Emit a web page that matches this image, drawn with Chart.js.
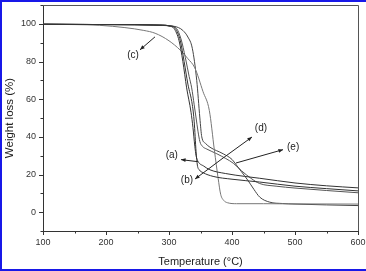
<!DOCTYPE html>
<html>
<head>
<meta charset="utf-8">
<script src="https://cdn.jsdelivr.net/npm/chart.js@4.4.1/dist/chart.umd.min.js"></script>
<style>
  html, body { margin: 0; padding: 0; background: #fff; }
  canvas { display: block; }
</style>
</head>
<body>
<canvas id="tga" width="366" height="271"></canvas>
<script>
// TGA curves, weight loss (%) vs temperature (°C)
const tempA = [100, 200, 290, 300, 308, 316, 322, 328, 335, 338, 341, 343, 346, 355, 365, 390, 420, 444, 500, 550, 600];
const lossA = [99.8, 99.6, 99.3, 98.8, 97.5, 91, 80, 66, 53, 45, 35, 30, 27, 24.5, 22.5, 20.5, 19, 18, 15.5, 14, 12.9];

const tempB = [100, 200, 290, 300, 310, 318, 324, 330, 337, 340, 343, 345, 348, 354, 370, 400, 444, 500, 550, 600];
const lossB = [99.8, 99.6, 99.3, 99, 97.5, 91, 80, 68, 57, 48, 32, 25, 22.5, 21, 19, 17.5, 16, 13.8, 12.5, 11.3];

const tempC = [100, 150, 190, 230, 260, 278, 300, 318, 330, 341, 354, 364, 372, 378, 382, 387, 393, 407, 450, 500, 600];
const lossC = [99.8, 99.6, 99.2, 98, 96.5, 95, 91, 86, 81.5, 76.6, 64, 54, 33, 18, 9.5, 6.2, 5, 4.5, 4.5, 4.4, 4.3];

const tempD = [100, 200, 300, 315, 322, 330, 337, 344, 349, 352, 358, 365, 386, 400, 407, 415, 425, 435, 444, 460, 480, 500, 600];
const lossD = [99.8, 99.6, 99, 98, 96.5, 93, 87, 70, 50, 40, 36.5, 34.5, 31, 28, 25, 21.5, 17, 12, 8, 5.3, 4.6, 4.3, 3.5];

const tempE = [100, 200, 290, 300, 312, 319, 326, 332, 336, 340, 343, 346, 349, 353, 360, 376, 390, 402, 415, 430, 444, 470, 500, 550, 600];
const lossE = [99.8, 99.6, 99.3, 99, 97.5, 92, 82, 72, 66, 57, 50, 43, 37.5, 35, 33.5, 31, 28.5, 26, 22, 18, 15.2, 13.8, 12.8, 11.5, 10.3];

const seriesNames = ["(a)", "(b)", "(c)", "(d)", "(e)"];
const xTicks = [100, 200, 300, 400, 500, 600];
const yTicks = [0, 20, 40, 60, 80, 100];

// curve labels with their arrows, in data units
const notes = [
  { text: "(c)", at: [243, 83.5], from: [277.8, 93.1], to: [254, 86.2] },
  { text: "(a)", at: [304.5, 30.3], from: [346, 26.8], to: [319, 27.9] },
  { text: "(b)", at: [328.5, 17], from: [386, 28.8], to: [341.3, 17.6] },
  { text: "(d)", at: [446, 44.7], from: [386, 28.8], to: [431.7, 39.9] },
  { text: "(e)", at: [497, 34.6], from: [406.3, 26.1], to: [481, 33.2] }
];

const pts = (xs, ys) => xs.map((x, i) => ({ x: x, y: ys[i] }));
const lineColors = ["#333", "#333", "#777", "#444", "#555"];
const allData = [pts(tempA, lossA), pts(tempB, lossB), pts(tempC, lossC), pts(tempD, lossD), pts(tempE, lossE)];
const FONT = "'Liberation Sans', Arial, sans-serif";

const decor = {
  id: "decor",
  afterDraw(chart) {
    const ctx = chart.ctx;
    const a = chart.chartArea;
    const xs = chart.scales.x, ys = chart.scales.y;
    ctx.save();
    // frame top/right
    ctx.strokeStyle = "#555";
    ctx.lineWidth = 1;
    ctx.beginPath();
    ctx.moveTo(a.left, a.top + 0.5);
    ctx.lineTo(a.right + 0.5, a.top + 0.5);
    ctx.lineTo(a.right + 0.5, a.bottom);
    ctx.stroke();
    // ticks, outward
    ctx.strokeStyle = "#333";
    ctx.beginPath();
    for (let v = 100; v <= 600; v += 50) {
      const px = Math.round(xs.getPixelForValue(v)) + 0.5;
      const len = v % 100 === 0 ? 4 : 2.5;
      ctx.moveTo(px, a.bottom);
      ctx.lineTo(px, a.bottom + len);
    }
    for (let v = -10; v <= 110; v += 10) {
      const py = Math.round(ys.getPixelForValue(v)) + 0.5;
      const len = v % 20 === 0 ? 4 : 2.5;
      ctx.moveTo(a.left, py);
      ctx.lineTo(a.left - len, py);
    }
    ctx.stroke();
    // annotations
    ctx.fillStyle = "#222";
    ctx.strokeStyle = "#222";
    ctx.font = "10px " + FONT;
    ctx.textAlign = "center";
    ctx.textBaseline = "middle";
    notes.forEach((n) => {
      ctx.fillText(n.text, xs.getPixelForValue(n.at[0]), ys.getPixelForValue(n.at[1]));
      const x0 = xs.getPixelForValue(n.from[0]), y0 = ys.getPixelForValue(n.from[1]);
      const x1 = xs.getPixelForValue(n.to[0]), y1 = ys.getPixelForValue(n.to[1]);
      ctx.beginPath();
      ctx.moveTo(x0, y0);
      ctx.lineTo(x1, y1);
      ctx.stroke();
      const ang = Math.atan2(y1 - y0, x1 - x0);
      ctx.beginPath();
      ctx.moveTo(x1, y1);
      ctx.lineTo(x1 - 5 * Math.cos(ang - 0.4), y1 - 5 * Math.sin(ang - 0.4));
      ctx.lineTo(x1 - 5 * Math.cos(ang + 0.4), y1 - 5 * Math.sin(ang + 0.4));
      ctx.closePath();
      ctx.fill();
    });
    // blue picture border
    ctx.fillStyle = "#1818e8";
    ctx.fillRect(0, 0, chart.width, 2);
    ctx.fillRect(0, 0, 2, chart.height);
    ctx.fillRect(0, chart.height - 2, chart.width, 2);
    ctx.restore();
  }
};

new Chart(document.getElementById("tga"), {
  type: "line",
  data: {
    datasets: allData.map((d, i) => ({
      label: seriesNames[i],
      data: d,
      borderColor: lineColors[i],
      borderWidth: 1,
      pointRadius: 0,
      fill: false,
      cubicInterpolationMode: "monotone"
    }))
  },
  options: {
    responsive: false,
    animation: false,
    devicePixelRatio: 1,
    layout: { padding: { left: 0, right: 8, top: 5, bottom: 0 } },
    plugins: { legend: { display: false }, tooltip: { enabled: false } },
    scales: {
      x: {
        type: "linear",
        min: 100,
        max: 600,
        afterFit: (s) => { s.height = 40; s.paddingLeft = 0; s.paddingRight = 0; },
        afterBuildTicks: (s) => { s.ticks = xTicks.map((v) => ({ value: v })); },
        grid: { display: false, drawTicks: false },
        border: { display: true, color: "#333", width: 1 },
        ticks: { color: "#333", padding: 6, font: { size: 9, family: FONT } },
        title: { display: true, text: "Temperature (°C)", color: "#222", padding: { top: 0, bottom: 2 },
                 font: { size: 11, family: FONT } }
      },
      y: {
        type: "linear",
        min: -10,
        max: 110,
        afterFit: (s) => { s.width = 43; s.paddingTop = 0; s.paddingBottom = 0; },
        afterBuildTicks: (s) => { s.ticks = yTicks.map((v) => ({ value: v })); },
        grid: { display: false, drawTicks: false },
        border: { display: true, color: "#333", width: 1 },
        ticks: { color: "#333", padding: 7, font: { size: 9, family: FONT } },
        title: { display: true, text: "Weight loss (%)", color: "#222", padding: { top: 3, bottom: 0 },
                 font: { size: 11.5, family: FONT } }
      }
    }
  },
  plugins: [decor]
});
</script>
</body>
</html>
